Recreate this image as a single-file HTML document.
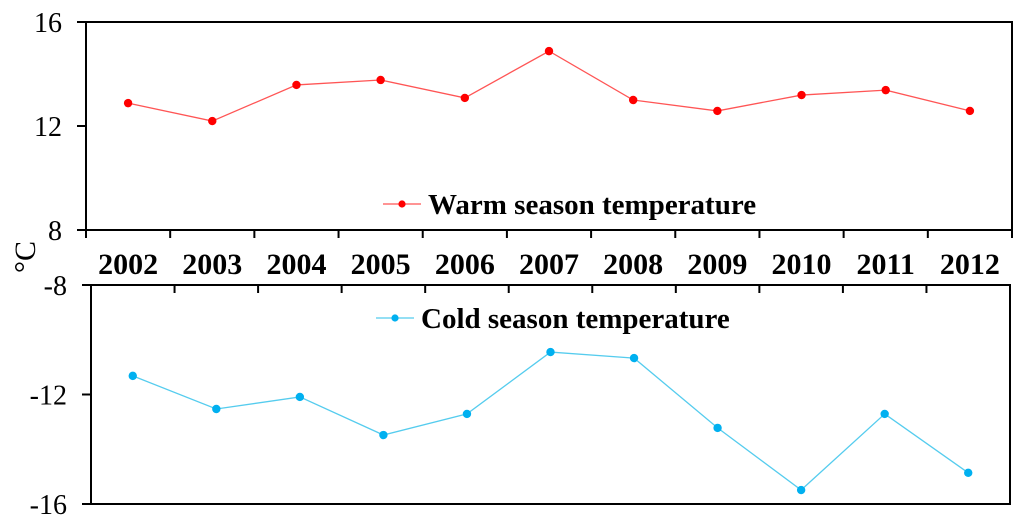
<!DOCTYPE html>
<html><head><meta charset="utf-8"><style>
body{margin:0;background:#fff;}
svg{display:block;font-family:"Liberation Serif",serif;}
</style></head><body>
<svg id="c" width="1024" height="519"></svg>
<script>
const years=["2002","2003","2004","2005","2006","2007","2008","2009","2010","2011","2012"];
const warm=[12.88,12.19,13.58,13.77,13.08,14.88,13.0,12.58,13.19,13.38,12.58];
const cold=[-11.32,-12.53,-12.09,-13.48,-12.71,-10.45,-10.67,-13.22,-15.49,-12.71,-14.86];
const warmTicks=[8,12,16];
const coldTicks=[-16,-12,-8];
const svg=document.getElementById('c');
const NS='http://www.w3.org/2000/svg';
function mk(t,a,p){const e=document.createElementNS(NS,t);for(const k in a)e.setAttribute(k,a[k]);(p||svg).appendChild(e);return e;}
function panel(o){
  const g=mk('g',{});
  
  
  const n=years.length,bw=(o.x1-o.x0)/n;
  const xs=i=>o.x0+bw*(i+0.5);
  const ys=v=>o.y1-(v-o.min)/(o.max-o.min)*(o.y1-o.y0);
  const r=mk('rect',{x:o.x0,y:o.y0,width:o.x1-o.x0,height:o.y1-o.y0,fill:'none',stroke:'#000','stroke-width':2},g);
  
  o.ticks.forEach(t=>{
    const y=ys(t);
    mk('line',{x1:o.x0-9,x2:o.x0,y1:y,y2:y,stroke:'#000','stroke-width':2},g);
    const tx=mk('text',{x:o.x0-24,y:y+10,'text-anchor':'end','font-size':28},g);
    tx.textContent=t;
    
  });
  for(let i=0;i<=n;i++){
    const x=o.x0+bw*i;
    mk('line',{x1:x,x2:x,y1:o.tickY,y2:o.tickY+8,stroke:'#000','stroke-width':2},g);
  }
  const pts=o.data.map((v,i)=>xs(i)+','+ys(v)).join(' ');
  const pl=mk('polyline',{points:pts,fill:'none',stroke:o.line,'stroke-width':1.3},g);
  
  o.data.forEach((v,i)=>{
    const c=mk('circle',{cx:xs(i),cy:ys(v),r:4.2,fill:o.dot},g);
    
  });
  const lg=mk('g',{},g);
  
  mk('line',{x1:o.lx,x2:o.lx+38,y1:o.ly,y2:o.ly,stroke:o.line,'stroke-width':1.3},lg);
  mk('circle',{cx:o.lx+19,cy:o.ly,r:3.6,fill:o.dot},lg);
  const lt=mk('text',{x:o.lx+45,y:o.ly+10,'font-size':29,'font-weight':'bold'},lg);
  lt.textContent=o.label;
}
panel({name:'warm-panel',x0:86,x1:1012,y0:22,y1:230,min:8,max:16,ticks:warmTicks,data:warm,line:'#ff5555',dot:'#ff0000',tickY:230,lx:383,ly:204,label:'Warm season temperature'});
panel({name:'cold-panel',x0:91,x1:1010,y0:285,y1:504,min:-16,max:-8,ticks:coldTicks,data:cold,line:'#55ccee',dot:'#00b0f0',tickY:285,lx:376,ly:318,label:'Cold season temperature'});
const bw=(1012-86)/years.length;
years.forEach((y,i)=>{
  const t=mk('text',{x:86+bw*(i+0.5),y:274,'text-anchor':'middle','font-size':30,'font-weight':'bold'});
  t.textContent=y;
  
  
});
const yt=mk('text',{x:0,y:0,transform:'translate(35,257) rotate(-90)','text-anchor':'middle','font-size':30});
yt.textContent='°C';


</script>
</body></html>
